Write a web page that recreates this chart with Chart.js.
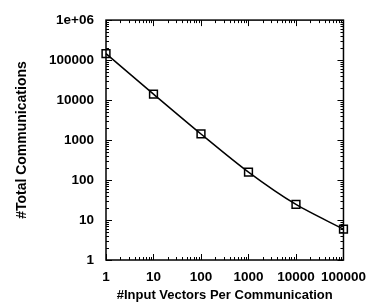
<!DOCTYPE html>
<html>
<head>
<meta charset="utf-8">
<script src="https://cdn.jsdelivr.net/npm/chart.js@4.4.0/dist/chart.umd.min.js"></script>
<style>
  body { margin: 0; background: #fff; }
  #wrap { width: 375px; height: 305px; }
</style>
</head>
<body>
<div id="wrap"><canvas id="chart"></canvas></div>
<script>
const inputVectors = [1, 10, 100, 1000, 10000, 100000];
const totalComms = [145000, 14100, 1420, 158, 24.5, 5.9];
const xTickValues = [1, 10, 100, 1000, 10000, 100000];
const yTickValues = [1, 10, 100, 1000, 10000, 100000, 1000000];
const yTickLabels = ['1', '10', '100', '1000', '10000', '100000', '1e+06'];

const FAMILY = '"Liberation Sans", Arial, sans-serif';
const TICK_FONT = { family: FAMILY, size: 13.5, weight: 'bold' };

// gnuplot style tick marks, drawn inward on all four sides
const innerTicks = {
    id: 'innerTicks',
    afterDraw(chart) {
        const ctx = chart.ctx;
        const a = chart.chartArea;
        const xs = chart.scales.x, ys = chart.scales.y;
        ctx.save();
        ctx.strokeStyle = '#000';
        ctx.lineWidth = 1;
        const decades = (min, max, cb) => {
            for (let d = min; d < max; d *= 10) {
                for (let m = 1; m < 10; m++) cb(d * m, m === 1);
            }
            cb(max, true);
        };
        decades(1, 100000, (v, major) => {
            const px = Math.round(xs.getPixelForValue(v)) + 0.5;
            const len = major ? 6 : 3;
            ctx.beginPath();
            ctx.moveTo(px, a.bottom); ctx.lineTo(px, a.bottom - len);
            ctx.moveTo(px, a.top); ctx.lineTo(px, a.top + len);
            ctx.stroke();
        });
        decades(1, 1000000, (v, major) => {
            const py = Math.round(ys.getPixelForValue(v)) + 0.5;
            const len = major ? 6 : 3;
            ctx.beginPath();
            ctx.moveTo(a.left, py); ctx.lineTo(a.left + len, py);
            ctx.moveTo(a.right, py); ctx.lineTo(a.right - len, py);
            ctx.stroke();
        });
        ctx.lineWidth = 1.5;
        ctx.strokeRect(a.left, a.top, a.right - a.left, a.bottom - a.top);
        ctx.restore();
    }
};

new Chart(document.getElementById('chart'), {
    type: 'line',
    data: {
        datasets: [{
            data: inputVectors.map((x, i) => ({ x: x, y: totalComms[i] })),
            borderColor: '#000',
            borderWidth: 1.5,
            backgroundColor: 'rgba(0,0,0,0)',
            pointStyle: 'rect',
            pointRadius: 5.5,
            pointBorderWidth: 1.5,
            pointBorderColor: '#000',
            tension: 0.3,
            clip: false
        }]
    },
    plugins: [innerTicks],
    options: {
        responsive: true,
        maintainAspectRatio: false,
        animation: false,
        layout: { padding: { top: 15, right: 26, left: 14, bottom: 2 } },
        plugins: { legend: { display: false }, tooltip: { enabled: false } },
        scales: {
            x: {
                type: 'logarithmic',
                min: 1,
                max: 100000,
                grid: { display: false, drawTicks: false },
                border: { display: false },
                afterBuildTicks: s => { s.ticks = xTickValues.map(v => ({ value: v })); },
                afterFit: s => { s.height = 43; },
                ticks: {
                    color: '#000',
                    font: TICK_FONT,
                    padding: 9,
                    maxRotation: 0,
                    autoSkip: false,
                    callback: v => String(v)
                },
                title: {
                    display: true,
                    text: '#Input Vectors Per Communication',
                    color: '#000',
                    font: { family: FAMILY, size: 13, weight: 'bold' },
                    padding: { top: 4, bottom: 0 }
                }
            },
            y: {
                type: 'logarithmic',
                min: 1,
                max: 1000000,
                grid: { display: false, drawTicks: false },
                border: { display: false },
                afterBuildTicks: s => { s.ticks = yTickValues.map(v => ({ value: v })); },
                afterFit: s => { s.width = 92; },
                ticks: {
                    color: '#000',
                    font: TICK_FONT,
                    padding: 12,
                    autoSkip: false,
                    callback: v => yTickLabels[yTickValues.indexOf(v)]
                },
                title: {
                    display: true,
                    text: '#Total Communications',
                    color: '#000',
                    font: { family: FAMILY, size: 14, weight: 'bold' },
                    padding: { top: 0, bottom: 0 }
                }
            }
        }
    }
});
</script>
</body>
</html>
